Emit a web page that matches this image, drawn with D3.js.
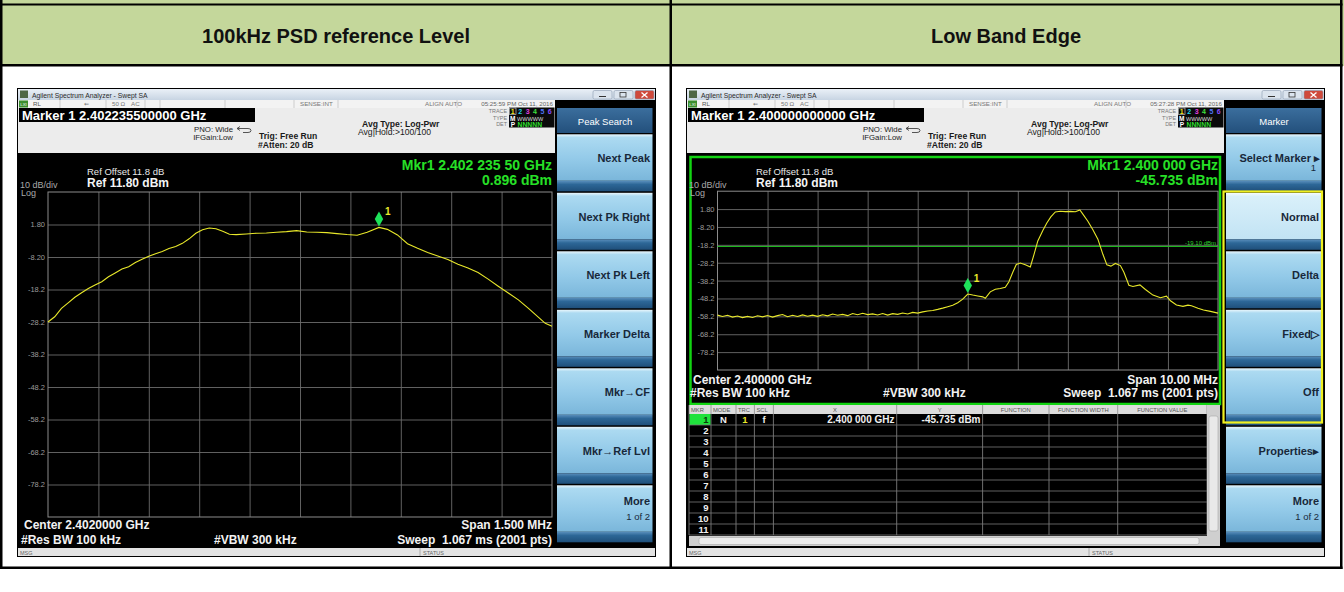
<!DOCTYPE html>
<html>
<head>
<meta charset="utf-8">
<script src="https://cdnjs.cloudflare.com/ajax/libs/d3/7.8.5/d3.min.js"></script>
<style>
  body { margin: 0; background: #fff; }
  svg { display: block; font-family: 'Liberation Sans', Arial, sans-serif; }
  text { white-space: pre; }
</style>
</head>
<body>
<svg id="chart" width="1344" height="592"></svg>
<script>
// ---- data ----
const panelTitles = ['100kHz PSD reference Level', 'Low Band Edge'];
const refLevel = 11.8;            // dBm at top graticule line, 10 dB/div
const levelTicks = [1.8, -8.2, -18.2, -28.2, -38.2, -48.2, -58.2, -68.2, -78.2];

// 100 kHz PSD trace: frequency (MHz) and level (dBm)
const psdFreq = [2401.25, 2401.27, 2401.29, 2401.31, 2401.33, 2401.35, 2401.37, 2401.39, 2401.41, 2401.43,
  2401.45, 2401.47, 2401.49, 2401.51, 2401.53, 2401.55, 2401.57, 2401.59, 2401.61, 2401.63,
  2401.65, 2401.67, 2401.69, 2401.71, 2401.73, 2401.75, 2401.77, 2401.79, 2401.81, 2401.84,
  2401.87, 2401.90, 2401.93, 2401.96, 2401.99, 2402.02, 2402.05, 2402.08, 2402.11, 2402.14,
  2402.17, 2402.20, 2402.235, 2402.26, 2402.29, 2402.32, 2402.35, 2402.38, 2402.41, 2402.44,
  2402.47, 2402.50, 2402.53, 2402.56, 2402.59, 2402.62, 2402.65, 2402.68, 2402.71, 2402.73, 2402.75];
const psdLevel = [-28.2, -26.6, -24.0, -22.3, -20.6, -19.2, -17.9, -16.8, -15.8, -14.3,
  -13.1, -11.9, -11.2, -9.9, -8.9, -8.0, -7.2, -6.5, -5.6, -5.0,
  -4.0, -2.6, -0.9, 0.2, 0.7, 0.5, -0.3, -1.2, -1.3, -1.1,
  -0.9, -0.8, -0.6, -0.4, -0.1, -0.5, -0.6, -0.7, -1.0, -1.3,
  -1.5, -0.6, 0.9, 0.3, -1.4, -4.1, -5.5, -6.8, -7.9, -9.0,
  -10.4, -11.6, -13.0, -15.0, -17.2, -19.3, -21.4, -24.0, -26.8, -28.6, -29.5];

// Low band edge trace: frequency (MHz) and level (dBm)
const edgeFreq = [2395.0, 2395.1, 2395.2, 2395.3, 2395.4, 2395.5, 2395.6, 2395.7, 2395.8, 2395.9,
  2396.0, 2396.1, 2396.2, 2396.3, 2396.4, 2396.5, 2396.6, 2396.7, 2396.8, 2396.9,
  2397.0, 2397.1, 2397.2, 2397.3, 2397.4, 2397.5, 2397.6, 2397.7, 2397.8, 2397.9,
  2398.0, 2398.1, 2398.2, 2398.3, 2398.4, 2398.5, 2398.6, 2398.7, 2398.8, 2398.9,
  2399.0, 2399.1, 2399.2, 2399.3, 2399.4, 2399.5, 2399.6, 2399.7, 2399.8, 2399.9,
  2400.0, 2400.1, 2400.2, 2400.3, 2400.35, 2400.45, 2400.55, 2400.65, 2400.75, 2400.82,
  2400.9, 2400.97, 2401.05, 2401.15, 2401.25, 2401.32, 2401.4, 2401.5, 2401.58, 2401.66,
  2401.75, 2401.85, 2401.95, 2402.05, 2402.15, 2402.24, 2402.3, 2402.4, 2402.5, 2402.6,
  2402.7, 2402.78, 2402.86, 2402.95, 2403.05, 2403.12, 2403.22, 2403.3, 2403.44, 2403.55,
  2403.7, 2403.85, 2403.97, 2404.05, 2404.17, 2404.3, 2404.4, 2404.47, 2404.6, 2404.71, 2404.85, 2405.0];
const edgeLevel = [-57.5, -58.3, -57.6, -58.6, -58.0, -58.9, -58.2, -58.8, -57.9, -58.5,
  -57.7, -58.6, -57.8, -57.2, -58.4, -57.6, -58.3, -57.4, -58.1, -57.5,
  -58.2, -57.3, -57.9, -56.9, -57.6, -57.1, -57.8, -56.6, -57.3, -56.5,
  -57.2, -56.8, -57.4, -56.6, -57.5, -56.7, -57.1, -56.3, -56.9, -56.0,
  -56.4, -55.7, -55.2, -54.9, -54.3, -53.6, -52.8, -52.0, -50.6, -48.6,
  -45.7, -46.3, -46.8, -47.3, -48.1, -44.5, -43.0, -42.6, -41.9, -39.0,
  -33.5, -29.2, -28.4, -29.3, -30.6, -24.0, -16.0, -10.2, -6.0, -2.6,
  0.2, 0.6, 0.4, 0.5, 0.3, 1.3, -1.0, -5.0, -9.8, -15.0,
  -23.5, -29.4, -30.1, -28.6, -29.8, -33.5, -40.8, -41.5, -40.6, -43.2,
  -46.3, -47.8, -46.9, -49.5, -51.8, -52.6, -51.9, -52.3, -53.7, -54.6, -55.4, -56.4];

const psdSoftkeys = [['Next Peak'], ['Next Pk Right'], ['Next Pk Left'], ['Marker Delta'],
  ['Mkr\u2192CF'], ['Mkr\u2192Ref Lvl'], ['More', '1 of 2']];
const edgeSoftkeys = [['Select Marker \u25B8', '1'], ['Normal'], ['Delta'], ['Fixed\u25B7'], ['Off'],
  ['Properties\u25B8'], ['More', '1 of 2']];

const tableHeaders = ['MKR', 'MODE', 'TRC', 'SCL', 'X', 'Y', 'FUNCTION', 'FUNCTION WIDTH', 'FUNCTION VALUE'];
const tableRowLabels = ['1', '2', '3', '4', '5', '6', '7', '8', '9', '10', '11'];
const marker1Row = ['N', '1', 'f', '2.400 000 GHz', '-45.735 dBm'];
const traceDigits = ['1', '2', '3', '4', '5', '6'];
const traceColors = ['#f2e21c', '#1fd6e6', '#e23fe0', '#3fe03f', '#4f78ff', '#8a4cff'];

const screens = [
  {
    ox: 0, titleX: 336,
    markerLine: 'Marker 1 2.402235500000 GHz',
    date: '05:25:59 PM Oct 11, 2016',
    header: 'Peak Search', keys: psdSoftkeys,
    freq: psdFreq, level: psdLevel, fStart: 2401.25, fStop: 2402.75,
    plot: { x0: 48, x1: 552, y0: 192, y1: 517 },
    mkrText: ['Mkr1 2.402 235 50 GHz', '0.896 dBm'],
    marker: { f: 2402.235, l: 0.896 },
    footer: ['Center 2.4020000 GHz', '#Res BW 100 kHz', '#VBW 300 kHz', 'Span 1.500 MHz', 'Sweep  1.067 ms (2001 pts)'],
    footerY: [529, 544]
  },
  {
    ox: 669, titleX: 337,
    markerLine: 'Marker 1 2.400000000000 GHz',
    date: '05:27:28 PM Oct 11, 2016',
    header: 'Marker', keys: edgeSoftkeys,
    freq: edgeFreq, level: edgeLevel, fStart: 2395, fStop: 2405,
    plot: { x0: 48.5, x1: 549, y0: 191.2, y1: 370 },
    mkrText: ['Mkr1 2.400 000 GHz', '-45.735 dBm'],
    marker: { f: 2400.0, l: -45.735 },
    footer: ['Center 2.400000 GHz', '#Res BW 100 kHz', '#VBW 300 kHz', 'Span 10.00 MHz', 'Sweep  1.067 ms (2001 pts)'],
    footerY: [384, 397],
    displayLine: -19.10,
    table: true
  }
];

const svg = d3.select('#chart');
const defs = svg.append('defs');

function grad(id, stops) {
  const lg = defs.append('linearGradient').attr('id', id)
    .attr('x1', 0).attr('y1', 0).attr('x2', 0).attr('y2', 1);
  stops.forEach(([o, c]) => lg.append('stop').attr('offset', o).attr('stop-color', c));
}
grad('gKey', [[0, '#e9f6fc'], [0.07, '#acdaf1'], [0.55, '#92c9e8'], [1, '#7ab6da']]);
grad('gKeySel', [[0, '#f6fcff'], [0.08, '#d9f0fa'], [1, '#c2e3f4']]);
grad('gBand', [[0, '#5a8fbc'], [0.35, '#2d6797'], [1, '#1f4f7a']]);
grad('gHead', [[0, '#3b6e9d'], [1, '#23507c']]);
grad('gTitle', [[0, '#eaf0f7'], [1, '#c8d5e3']]);

// ---- document table around the screenshots ----
svg.append('rect').attr('x', 0).attr('y', 0).attr('width', 1344).attr('height', 66).attr('fill', '#c4d79b');
[[0, 3.5, 1342.5, 2], [0, 64, 1342.5, 2.5], [0, 566.5, 1342.5, 2.5],
 [0, 0, 2.5, 569], [669.5, 0, 2.5, 569], [1340, 0, 2.5, 569]].forEach(([x, y, w, h]) => {
  svg.append('rect').attr('x', x).attr('y', y).attr('width', w).attr('height', h).attr('fill', '#000');
});
svg.selectAll('text.ptitle').data(panelTitles).join('text')
  .attr('class', 'ptitle')
  .attr('x', (d, i) => i === 0 ? 336 : 1006)
  .attr('y', 43)
  .attr('text-anchor', 'middle')
  .attr('font-size', 20).attr('font-weight', 'bold').attr('fill', '#111')
  .text((d) => d);

function txt(g, x, y, s, size, opts = {}) {
  return g.append('text')
    .attr('x', x).attr('y', y)
    .attr('font-size', size)
    .attr('font-weight', opts.bold ? 'bold' : null)
    .attr('fill', opts.fill || '#000')
    .attr('text-anchor', opts.anchor || 'start')
    .text(s);
}

function drawScreen(s) {
  const g = svg.append('g').attr('transform', `translate(${s.ox},0)`);

  // window body
  g.append('rect').attr('x', 17).attr('y', 88).attr('width', 639).attr('height', 469).attr('fill', '#000');

  // window title bar
  g.append('rect').attr('x', 18).attr('y', 89).attr('width', 637).attr('height', 11).attr('fill', 'url(#gTitle)');
  g.append('rect').attr('x', 20).attr('y', 90.5).attr('width', 8).attr('height', 7.5).attr('fill', '#4f6846');
  txt(g, 32, 97.5, 'Agilent Spectrum Analyzer - Swept SA', 6.8, { fill: '#2b2b2b' });
  [[593, '#dbe4ee'], [614, '#dbe4ee'], [635, '#cf4a3c']].forEach(([x, c]) => {
    g.append('rect').attr('x', x).attr('y', 90.5).attr('width', 19).attr('height', 8.5)
      .attr('rx', 1.5).attr('fill', c).attr('stroke', '#8b9bb0').attr('stroke-width', 0.6);
  });
  g.append('line').attr('x1', 599).attr('x2', 606).attr('y1', 96.5).attr('y2', 96.5).attr('stroke', '#333');
  g.append('rect').attr('x', 620).attr('y', 92.5).attr('width', 6).attr('height', 4.5)
    .attr('fill', 'none').attr('stroke', '#333').attr('stroke-width', 0.8);
  g.append('path').attr('d', 'M641.5 92.5 L647.5 97.5 M647.5 92.5 L641.5 97.5')
    .attr('stroke', '#fff').attr('stroke-width', 1.3);

  // instrument status row
  g.append('rect').attr('x', 18).attr('y', 100).attr('width', 537).attr('height', 8).attr('fill', '#f3f3f3');
  g.append('rect').attr('x', 19).attr('y', 100.5).attr('width', 9).attr('height', 7).attr('fill', '#3c8f2e');
  txt(g, 23.5, 106, 'LXI', 4.2, { fill: '#fff', anchor: 'middle' });
  txt(g, 33, 106, 'RL', 6.2, { fill: '#555' });
  txt(g, 84, 106, '\u21dc', 6.2, { fill: '#777' });
  txt(g, 112, 106, '50 \u03a9', 6.2, { fill: '#777' });
  txt(g, 131, 106, 'AC', 6.2, { fill: '#777' });
  txt(g, 300, 106, 'SENSE:INT', 6.2, { fill: '#777' });
  txt(g, 425, 106, 'ALIGN AUTO', 6.2, { fill: '#777' });
  txt(g, 553, 106, s.date, 6.2, { fill: '#666', anchor: 'end' });
  [60, 106, 145, 160, 225, 294, 338, 457].forEach((x) => {
    g.append('line').attr('x1', x).attr('x2', x).attr('y1', 100).attr('y2', 108)
      .attr('stroke', '#bdbdbd').attr('stroke-width', 0.7);
  });

  // settings area
  g.append('rect').attr('x', 18).attr('y', 108).attr('width', 537).attr('height', 45).attr('fill', '#ececec');
  g.append('rect').attr('x', 19).attr('y', 108).attr('width', 236).attr('height', 14).attr('fill', '#000');
  txt(g, 22, 119.5, s.markerLine, 13, { bold: true, fill: '#fff' });
  txt(g, 233, 131.5, 'PNO: Wide', 7.8, { fill: '#222', anchor: 'end' });
  txt(g, 233, 140, 'IFGain:Low', 7.8, { fill: '#222', anchor: 'end' });
  g.append('path').attr('d', 'M237 128.5 L248 128.5 Q251 128.5 251 130.5 Q251 132.5 248 132.5 L243 132.5 M240 126.5 L237 128.5 L240 130.5')
    .attr('fill', 'none').attr('stroke', '#444').attr('stroke-width', 0.9);
  txt(g, 259, 139, 'Trig: Free Run', 8.6, { bold: true, fill: '#1a1a1a' });
  txt(g, 258, 148, '#Atten: 20 dB', 8.6, { bold: true, fill: '#1a1a1a' });
  txt(g, 362, 126.5, 'Avg Type: Log-Pwr', 8.6, { bold: true, fill: '#1a1a1a' });
  txt(g, 358, 135, 'Avg|Hold:>100/100', 8.6, { fill: '#1a1a1a' });

  // trace status block
  txt(g, 507, 113, 'TRACE', 5.4, { fill: '#777', anchor: 'end' });
  txt(g, 507, 119.5, 'TYPE', 5.4, { fill: '#777', anchor: 'end' });
  txt(g, 507, 126, 'DET', 5.4, { fill: '#777', anchor: 'end' });
  g.append('rect').attr('x', 509).attr('y', 107.5).attr('width', 45.5).attr('height', 20).attr('fill', '#0a0a0a');
  g.append('rect').attr('x', 509.5).attr('y', 108).attr('width', 6.5).attr('height', 6.5)
    .attr('fill', 'none').attr('stroke', '#ddd').attr('stroke-width', 0.6);
  traceDigits.forEach((d, i) => {
    txt(g, 512.8 + i * 7.4, 114, d, 7, { bold: true, fill: traceColors[i], anchor: 'middle' });
  });
  txt(g, 512.8, 120.5, 'M', 6.5, { bold: true, fill: '#fff', anchor: 'middle' });
  txt(g, 517, 120.5, 'WWWWW', 5.6, { fill: '#ddd' });
  txt(g, 512.8, 127, 'P', 6.5, { bold: true, fill: '#fff', anchor: 'middle' });
  txt(g, 517.5, 127, 'NNNNN', 6.8, { bold: true, fill: '#2edc2e' });

  // softkey column
  g.append('rect').attr('x', 557).attr('y', 108).attr('width', 95.5).attr('height', 25).attr('fill', 'url(#gHead)');
  txt(g, 605, 124.5, s.header, 9.5, { fill: '#fff', anchor: 'middle' });
  s.keys.forEach((lines, i) => {
    const top = 134.3 + i * 58.5;
    const selected = s.table && i === 1;
    g.append('rect').attr('x', 557).attr('y', top).attr('width', 95.5).attr('height', 46.5)
      .attr('fill', selected ? 'url(#gKeySel)' : 'url(#gKey)');
    g.append('rect').attr('x', 557).attr('y', top + 46.5).attr('width', 95.5).attr('height', 10.5)
      .attr('fill', 'url(#gBand)');
    if (lines.length === 1) {
      txt(g, 650, top + 28, lines[0], 11, { bold: true, fill: '#18283a', anchor: 'end' });
    } else if (lines[0] === 'More') {
      txt(g, 650, top + 20, lines[0], 11, { bold: true, fill: '#18283a', anchor: 'end' });
      txt(g, 650, top + 34.5, lines[1], 9.5, { fill: '#18283a', anchor: 'end' });
    } else {
      txt(g, 651, top + 27.5, lines[0], 11, { bold: true, fill: '#18283a', anchor: 'end' });
      txt(g, 647, top + 36.5, lines[1], 9.5, { fill: '#18283a', anchor: 'end' });
    }
  });
  if (s.table) {
    g.append('rect').attr('x', 554.5).attr('y', 191.5).attr('width', 98.5).attr('height', 231)
      .attr('fill', 'none').attr('stroke', '#f0f020').attr('stroke-width', 2.2);
  }

  // measurement window
  if (s.table) {
    g.append('rect').attr('x', 21.5).attr('y', 157).attr('width', 529.5).attr('height', 247)
      .attr('fill', 'none').attr('stroke', '#12d412').attr('stroke-width', 2.5);
  }
  txt(g, 87, 175, 'Ref Offset 11.8 dB', 9.5, { fill: '#e8e8e8' });
  txt(g, 87, 187, 'Ref 11.80 dBm', 12, { bold: true, fill: '#f4f4f4' });
  txt(g, 20, 188, '10 dB/div', 9, { fill: '#a9a9a9' });
  txt(g, 21, 195.5, 'Log', 9, { fill: '#a9a9a9' });
  txt(g, s.plot.x1, 170, s.mkrText[0], 14, { bold: true, fill: '#27e027', anchor: 'end' });
  txt(g, s.plot.x1, 184.5, s.mkrText[1], 14, { bold: true, fill: '#27e027', anchor: 'end' });

  const p = s.plot;
  const x = d3.scaleLinear().domain([s.fStart, s.fStop]).range([p.x0, p.x1]);
  const y = d3.scaleLinear().domain([refLevel - 100, refLevel]).range([p.y1, p.y0]);

  // graticule
  const yAxis = g.append('g').attr('transform', `translate(${p.x0},0)`)
    .call(d3.axisLeft(y).tickValues(levelTicks).tickSize(-(p.x1 - p.x0)).tickPadding(3)
      .tickFormat((d) => (Math.abs(d) < 10 ? d.toFixed(2) : d.toFixed(1))));
  yAxis.select('.domain').remove();
  yAxis.selectAll('line').attr('stroke', '#6c6c6c').attr('stroke-width', 0.9);
  yAxis.selectAll('text').attr('fill', '#9c9c9c').attr('font-size', 7.5)
    .attr('font-family', "'Liberation Sans', Arial, sans-serif");

  const fStep = (s.fStop - s.fStart) / 10;
  const xTicks = [1, 2, 3, 4, 5, 6, 7, 8, 9].map((i) => s.fStart + i * fStep);
  const xAxis = g.append('g').attr('transform', `translate(0,${p.y1})`)
    .call(d3.axisBottom(x).tickValues(xTicks).tickSize(-(p.y1 - p.y0)).tickFormat(''));
  xAxis.select('.domain').remove();
  xAxis.selectAll('line').attr('stroke', '#6c6c6c').attr('stroke-width', 0.9);

  g.append('rect').attr('x', p.x0).attr('y', p.y0).attr('width', p.x1 - p.x0).attr('height', p.y1 - p.y0)
    .attr('fill', 'none').attr('stroke', '#8c8c8c').attr('stroke-width', 1);

  if (s.displayLine !== undefined) {
    g.append('line').attr('x1', p.x0).attr('x2', p.x1)
      .attr('y1', y(s.displayLine)).attr('y2', y(s.displayLine))
      .attr('stroke', '#1fc21f').attr('stroke-width', 1);
    txt(g, p.x1 - 2, y(s.displayLine) - 1.5, s.displayLine.toFixed(2) + ' dBm', 6, { fill: '#2fd02f', anchor: 'end' });
  }

  // trace
  const line = d3.line().x((i) => x(s.freq[i])).y((i) => y(s.level[i]));
  g.append('path').datum(d3.range(s.freq.length))
    .attr('d', line).attr('fill', 'none')
    .attr('stroke', '#e8e82a').attr('stroke-width', 1.1);

  // marker 1
  const mx = x(s.marker.f);
  const my = y(s.marker.l);
  g.append('path')
    .attr('d', `M${mx} ${my - 1} L${mx + 4.2} ${my - 8.5} L${mx} ${my - 16} L${mx - 4.2} ${my - 8.5} Z`)
    .attr('fill', '#1ee25a');
  txt(g, mx + 6, my - 12, '1', 10, { bold: true, fill: '#e8e82a' });

  // footer of the window
  txt(g, 24, s.footerY[0], s.footer[0], 12, { bold: true, fill: '#f2f2f2' });
  txt(g, 21, s.footerY[1], s.footer[1], 12, { bold: true, fill: '#f2f2f2' });
  txt(g, 214, s.footerY[1], s.footer[2], 12, { bold: true, fill: '#f2f2f2' });
  txt(g, p.x1, s.footerY[0], s.footer[3], 12, { bold: true, fill: '#f2f2f2', anchor: 'end' });
  txt(g, p.x1, s.footerY[1], s.footer[4], 12, { bold: true, fill: '#f2f2f2', anchor: 'end' });

  if (s.table) drawTable(g);

  // bottom status bar
  g.append('rect').attr('x', 18).attr('y', 548).attr('width', 637).attr('height', 8).attr('fill', '#e3e3e3');
  txt(g, 20, 554.5, 'MSG', 5.5, { fill: '#666' });
  g.append('line').attr('x1', 420).attr('x2', 420).attr('y1', 548).attr('y2', 556).attr('stroke', '#aaa');
  txt(g, 423, 554.5, 'STATUS', 5.5, { fill: '#666' });
}

function drawTable(g) {
  const colEdges = [20, 42, 67, 85.4, 104.4, 227.7, 313.6, 380, 448.7, 538];
  const top = 405;
  const rowH = 11;
  const rowsTop = 414;
  g.append('rect').attr('x', 20).attr('y', top).attr('width', 531).attr('height', 142).attr('fill', '#000');
  g.append('rect').attr('x', 20).attr('y', top).attr('width', 518).attr('height', 9).attr('fill', '#dcdcdc');
  tableHeaders.forEach((h, i) => {
    const cx = i < 4 ? colEdges[i] + 2 : (colEdges[i] + colEdges[i + 1]) / 2;
    txt(g, cx, top + 7, h, 5.8, { fill: '#555', anchor: i < 4 ? 'start' : 'middle' });
  });
  colEdges.forEach((cx) => {
    g.append('line').attr('x1', cx).attr('x2', cx).attr('y1', top).attr('y2', rowsTop + rowH * 11)
      .attr('stroke', '#8a8a8a').attr('stroke-width', 0.8);
  });
  tableRowLabels.forEach((r, i) => {
    const ry = rowsTop + i * rowH;
    if (i === 0) {
      g.append('rect').attr('x', 20.5).attr('y', ry).attr('width', 21).attr('height', rowH).attr('fill', '#1fe23c');
    }
    g.append('line').attr('x1', 20).attr('x2', 538).attr('y1', ry + rowH).attr('y2', ry + rowH)
      .attr('stroke', '#7a7a7a').attr('stroke-width', 0.8);
    txt(g, 39.5, ry + 9, r, 9.5, { bold: true, fill: i === 0 ? '#0a3a0a' : '#f0f0f0', anchor: 'end' });
  });
  const r1 = rowsTop + 9;
  txt(g, 54.5, r1, marker1Row[0], 9.5, { bold: true, fill: '#f0f0f0', anchor: 'middle' });
  txt(g, 76, r1, marker1Row[1], 9.5, { bold: true, fill: '#e8e82a', anchor: 'middle' });
  txt(g, 95, r1, marker1Row[2], 9.5, { bold: true, fill: '#f0f0f0', anchor: 'middle' });
  txt(g, 225.5, r1, marker1Row[3], 10, { bold: true, fill: '#f0f0f0', anchor: 'end' });
  txt(g, 311.5, r1, marker1Row[4], 10, { bold: true, fill: '#f0f0f0', anchor: 'end' });

  // scroll bars
  g.append('rect').attr('x', 538).attr('y', top).attr('width', 13).attr('height', 131).attr('fill', '#cfcfcf');
  g.append('rect').attr('x', 540).attr('y', 416).attr('width', 9).attr('height', 115).attr('rx', 2).attr('fill', '#e9e9e9')
    .attr('stroke', '#a8a8a8').attr('stroke-width', 0.6);
  g.append('rect').attr('x', 20).attr('y', 536).attr('width', 531).attr('height', 10).attr('fill', '#cfcfcf');
  g.append('rect').attr('x', 30).attr('y', 537.5).attr('width', 500).attr('height', 7).attr('rx', 2).attr('fill', '#ececec')
    .attr('stroke', '#a8a8a8').attr('stroke-width', 0.6);
}

screens.forEach(drawScreen);
</script>
</body>
</html>
